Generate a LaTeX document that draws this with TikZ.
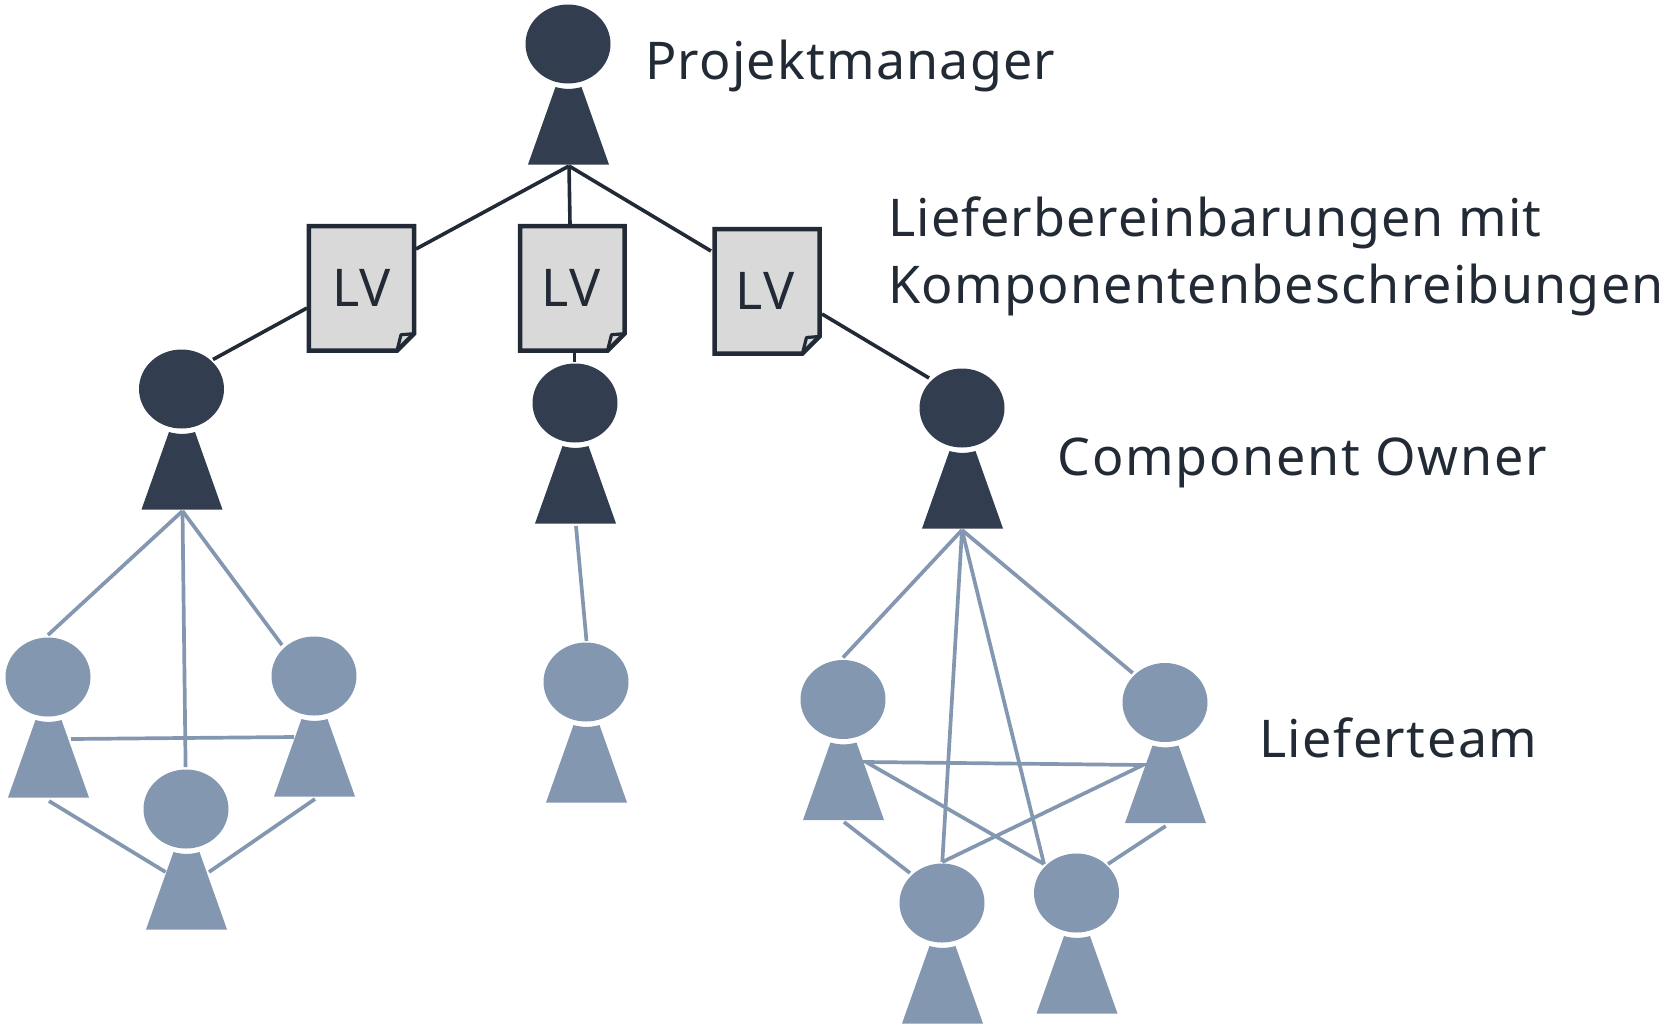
\documentclass[tikz,border=0pt]{standalone}
\usepackage{fontspec}
\setmainfont[LetterSpace=2.3]{Noto Sans}
\usetikzlibrary{shapes.geometric}
\definecolor{dk}{HTML}{323E4F}
\definecolor{bl}{HTML}{8497B0}
\definecolor{ln}{HTML}{222B35}
\definecolor{dg}{HTML}{D9D9D9}
\tikzset{
  headshape/.style={ellipse,minimum width=85pt,minimum height=79pt,inner sep=0pt,draw=none},
  darkline/.style={draw=ln,line width=3.6pt},
  blueline/.style={draw=bl,line width=3.7pt},
  docline/.style={draw=ln,line width=4.5pt,line join=miter},
  lab/.style={anchor=base west,inner sep=0pt,text=ln,font=\fontsize{52}{52}\selectfont},
  lvlab/.style={anchor=base west,inner sep=0pt,text=ln,font=\fontsize{52}{52}\selectfont}
}
\newcommand{\personfig}[4]{%
  \node[headshape,fill=#4] (#1) at (#2,#3) {};
  \fill[#4,shift={(#2,#3)}] (-12.5,43) .. controls (-4,45.5) and (5,45.5) .. (13.5,43)
     -- (41,120.5) -- (-40,120.5) -- cycle;
}
\newcommand{\docfig}[6]{% name l t r b, text left
  \coordinate (#1-a) at (#2,#3);
  \path[fill=dg] (#2,#3) -- (#4,#3) -- (#4,#5-17) -- (#4-17,#5) -- (#2,#5) -- cycle;
  \draw[docline] (#2,#3) -- (#4,#3) -- (#4,#5-17) -- (#4-17,#5) -- (#2,#5) -- cycle;
  \draw[draw=ln,line width=3.2pt,line join=round] (#4-17,#5) -- (#4-13,#5-16) -- (#4,#5-17);
  \node[lvlab] (#1) at (#6,#5-44) {LV};
}
\begin{document}
\begin{tikzpicture}[x=1pt,y=-1pt]
\useasboundingbox (0,0) rectangle (1663,1029);
% persons
\personfig{pm}{568}{44}{dk}
\personfig{coa}{181.5}{389}{dk}
\personfig{cob}{575}{403}{dk}
\personfig{coc}{962}{408}{dk}
\personfig{ta}{48}{677}{bl}
\personfig{tb}{314}{676}{bl}
\personfig{tc}{186}{809}{bl}
\personfig{md}{586}{682}{bl}
\personfig{ra}{843}{699.5}{bl}
\personfig{rb}{1165}{702.5}{bl}
\personfig{rc}{942}{903}{bl}
\personfig{rd}{1076.5}{893}{bl}
% documents
\docfig{da}{308.8}{226}{414}{350.7}{332}
\docfig{db}{520}{226}{624.5}{350.7}{541.5}
\docfig{dc}{714.5}{229}{819.5}{353.5}{735.5}
% connector ends
\coordinate (pmfoot) at (569,166);
\coordinate (c1) at (416,249); \coordinate (c2) at (570,224);
\coordinate (c3) at (711,251);
\coordinate (c4) at (307,308); \coordinate (c5) at (213,359.5);
\coordinate (c6) at (574.5,352); \coordinate (c7) at (574.5,362);
\coordinate (c8) at (822,314); \coordinate (c9) at (929,378);
\draw[darkline] (pmfoot) -- (c1);
\draw[darkline] (pmfoot) -- (c2);
\draw[darkline] (pmfoot) -- (c3);
\draw[darkline] (c4) -- (c5);
\draw[darkline] (c6) -- (c7);
\draw[darkline] (c8) -- (c9);
% left team
\coordinate (af) at (182.5,511);
\coordinate (a1) at (48,635); \coordinate (a2) at (185.6,767); \coordinate (a3) at (282,645);
\coordinate (a4) at (71,739); \coordinate (a5) at (294,737);
\coordinate (a6) at (49,801); \coordinate (a7) at (165.5,872);
\coordinate (a8) at (315,799); \coordinate (a9) at (209,872);
\draw[blueline] (af) -- (a1);
\draw[blueline] (af) -- (a2);
\draw[blueline] (af) -- (a3);
\draw[blueline] (a4) -- (a5);
\draw[blueline] (a6) -- (a7);
\draw[blueline] (a8) -- (a9);
% middle team
\coordinate (b1) at (576,526); \coordinate (b2) at (586.5,641);
\draw[blueline] (b1) -- (b2);
% right team
\coordinate (cf) at (962,530);
\coordinate (r1) at (843,657.5); \coordinate (r2) at (942.3,862);
\coordinate (r3) at (1044,864); \coordinate (r4) at (1132.7,673);
\coordinate (r5) at (866,762); \coordinate (r6) at (1143,765);
\coordinate (r7) at (844,822); \coordinate (r8) at (910,873);
\coordinate (r9) at (1165.7,826); \coordinate (r10) at (1108,864);
\draw[blueline] (cf) -- (r1);
\draw[blueline] (cf) -- (r2);
\draw[blueline] (cf) -- (r3);
\draw[blueline] (cf) -- (r4);
\draw[blueline,line join=miter] (r2) -- (r6) -- (r5) -- (r3);
\draw[blueline] (r7) -- (r8);
\draw[blueline] (r9) -- (r10);
% labels
\node[lab] (tpm) at (645,79.5) {Projektmanager};
\node[lab] (tlv1) at (888,236) {\addfontfeatures{LetterSpace=2.05}Lieferbereinbarungen mit};
\node[lab] (tlv2) at (888,303) {\addfontfeatures{LetterSpace=2.4}Komponentenbeschreibungen};
\node[lab] (tco) at (1057.5,475.5) {\addfontfeatures{LetterSpace=3.3}Component Owner};
\node[lab] (tlt) at (1259,757) {\addfontfeatures{LetterSpace=2.9}Lieferteam};
\end{tikzpicture}
\end{document}
